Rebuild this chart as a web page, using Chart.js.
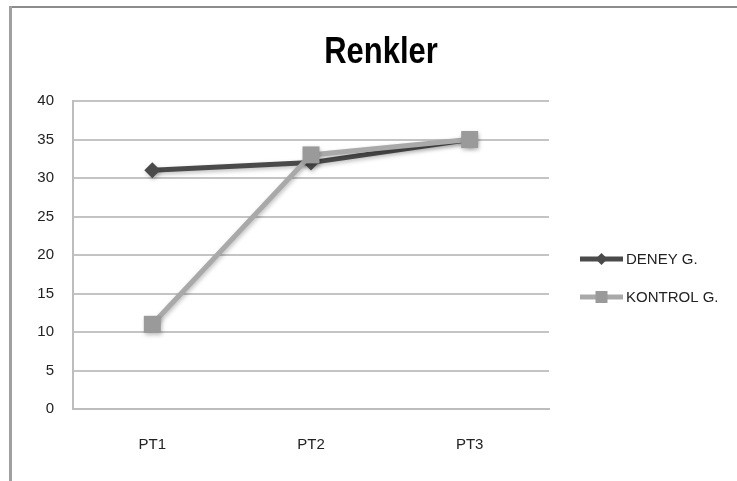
<!DOCTYPE html>
<html>
<head>
<meta charset="utf-8">
<script src="https://cdn.jsdelivr.net/npm/chart.js@4/dist/chart.umd.min.js"></script>
<style>
  html, body { margin: 0; padding: 0; background: #ffffff; }
  #wrap { width: 737px; height: 481px; position: relative; }
</style>
</head>
<body>
<div id="wrap"><canvas id="c" width="737" height="481"></canvas></div>
<script>
// Categories and series
const categories = ['PT1', 'PT2', 'PT3'];
const deneyValues = [31, 32, 35];
const kontrolValues = [11, 33, 35];
const seriesNames = ['DENEY G.', 'KONTROL G.'];
const chartTitle = 'Renkler';
const yMin = 0, yMax = 40, yStep = 5;

const DENEY_COLOR = '#4a4a4a';
const KONTROL_COLOR = '#a9a9a9';
const KONTROL_MARKER = '#9a9a9a';

// Outer frame (left and top edges of the chart box)
const framePlugin = {
  id: 'frame',
  beforeDraw(chart) {
    const ctx = chart.ctx;
    ctx.save();
    ctx.fillStyle = '#ffffff';
    ctx.fillRect(0, 0, chart.width, chart.height);
    ctx.fillStyle = '#8c8c8c';
    ctx.fillRect(9, 6, chart.width - 9, 2);
    ctx.fillStyle = '#a0a0a0';
    ctx.fillRect(9, 6, 3, chart.height - 6);
    ctx.restore();
  }
};

// Chart title, centred over the whole box and set in a condensed bold face
const titlePlugin = {
  id: 'boxTitle',
  afterDraw(chart) {
    const ctx = chart.ctx;
    ctx.save();
    ctx.translate(381, 63);
    ctx.scale(0.86, 1);
    ctx.font = 'bold 36px "Liberation Sans", Arial, sans-serif';
    ctx.fillStyle = '#000000';
    ctx.textAlign = 'center';
    ctx.textBaseline = 'alphabetic';
    ctx.fillText(chartTitle, 0, 0);
    ctx.restore();
  }
};

// Soft shadow under the series, as in office-style charts
const shadowPlugin = {
  id: 'softShadow',
  beforeDatasetsDraw(chart) {
    const ctx = chart.ctx;
    ctx.save();
    ctx.shadowColor = 'rgba(0,0,0,0.25)';
    ctx.shadowBlur = 4;
    ctx.shadowOffsetX = 1;
    ctx.shadowOffsetY = 2;
  },
  afterDatasetsDraw(chart) {
    chart.ctx.restore();
  }
};

// Legend on the right: short line with the series marker, then the name
const sideLegend = {
  id: 'sideLegend',
  afterDraw(chart) {
    const ctx = chart.ctx;
    const area = chart.chartArea;
    const x0 = area.right + 31;
    const lineLen = 43;
    const rows = [area.top + 158, area.top + 196];
    ctx.save();
    ctx.font = '15px "Liberation Sans", Arial, sans-serif';
    ctx.textBaseline = 'middle';
    chart.data.datasets.forEach((ds, i) => {
      const y = rows[i];
      const cx = x0 + lineLen / 2;
      const r = ds.legendRadius;
      ctx.strokeStyle = ds.borderColor;
      ctx.lineWidth = ds.borderWidth;
      ctx.beginPath();
      ctx.moveTo(x0, y);
      ctx.lineTo(x0 + lineLen, y);
      ctx.stroke();
      ctx.fillStyle = ds.pointBackgroundColor;
      ctx.beginPath();
      if (ds.pointStyle === 'rectRot') {
        ctx.moveTo(cx, y - r); ctx.lineTo(cx + r, y); ctx.lineTo(cx, y + r); ctx.lineTo(cx - r, y);
      } else {
        ctx.rect(cx - r, y - r, 2 * r, 2 * r);
      }
      ctx.closePath();
      ctx.fill();
      ctx.fillStyle = '#222222';
      ctx.fillText(ds.label, x0 + lineLen + 3, y + 1);
    });
    ctx.restore();
  }
};

new Chart(document.getElementById('c'), {
  type: 'line',
  data: {
    labels: categories,
    datasets: [
      {
        label: seriesNames[0],
        data: deneyValues,
        borderColor: DENEY_COLOR,
        backgroundColor: DENEY_COLOR,
        pointBackgroundColor: DENEY_COLOR,
        pointBorderColor: DENEY_COLOR,
        borderWidth: 5,
        pointStyle: 'rectRot',
        pointRadius: 8,
        pointBorderWidth: 0,
        legendRadius: 6,
        tension: 0,
        order: 2
      },
      {
        label: seriesNames[1],
        data: kontrolValues,
        borderColor: KONTROL_COLOR,
        backgroundColor: KONTROL_MARKER,
        pointBackgroundColor: KONTROL_MARKER,
        pointBorderColor: KONTROL_MARKER,
        borderWidth: 5,
        pointStyle: 'rect',
        pointRadius: 12,
        pointBorderWidth: 0,
        legendRadius: 6,
        tension: 0,
        order: 1
      }
    ]
  },
  options: {
    responsive: false,
    animation: false,
    devicePixelRatio: 1,
    layout: { padding: { left: 20, right: 188, top: 101, bottom: 0 } },
    plugins: {
      legend: { display: false },
      tooltip: { enabled: false },
      title: { display: false }
    },
    scales: {
      x: {
        offset: true,
        grid: { display: false, drawTicks: false, offset: true },
        border: { display: true, color: '#bdbdbd', width: 2 },
        ticks: {
          color: '#222222',
          font: { family: '"Liberation Sans", Arial, sans-serif', size: 15 },
          padding: 27
        },
        afterFit(scale) { scale.height = 72; }
      },
      y: {
        min: yMin,
        max: yMax,
        grid: { color: '#c4c4c4', lineWidth: 2, drawTicks: false },
        border: { display: true, color: '#bdbdbd', width: 2 },
        ticks: {
          stepSize: yStep,
          color: '#222222',
          font: { family: '"Liberation Sans", Arial, sans-serif', size: 15 },
          padding: 19
        },
        afterFit(scale) { scale.width = 53; }
      }
    }
  },
  plugins: [framePlugin, titlePlugin, shadowPlugin, sideLegend]
});
</script>
</body>
</html>
